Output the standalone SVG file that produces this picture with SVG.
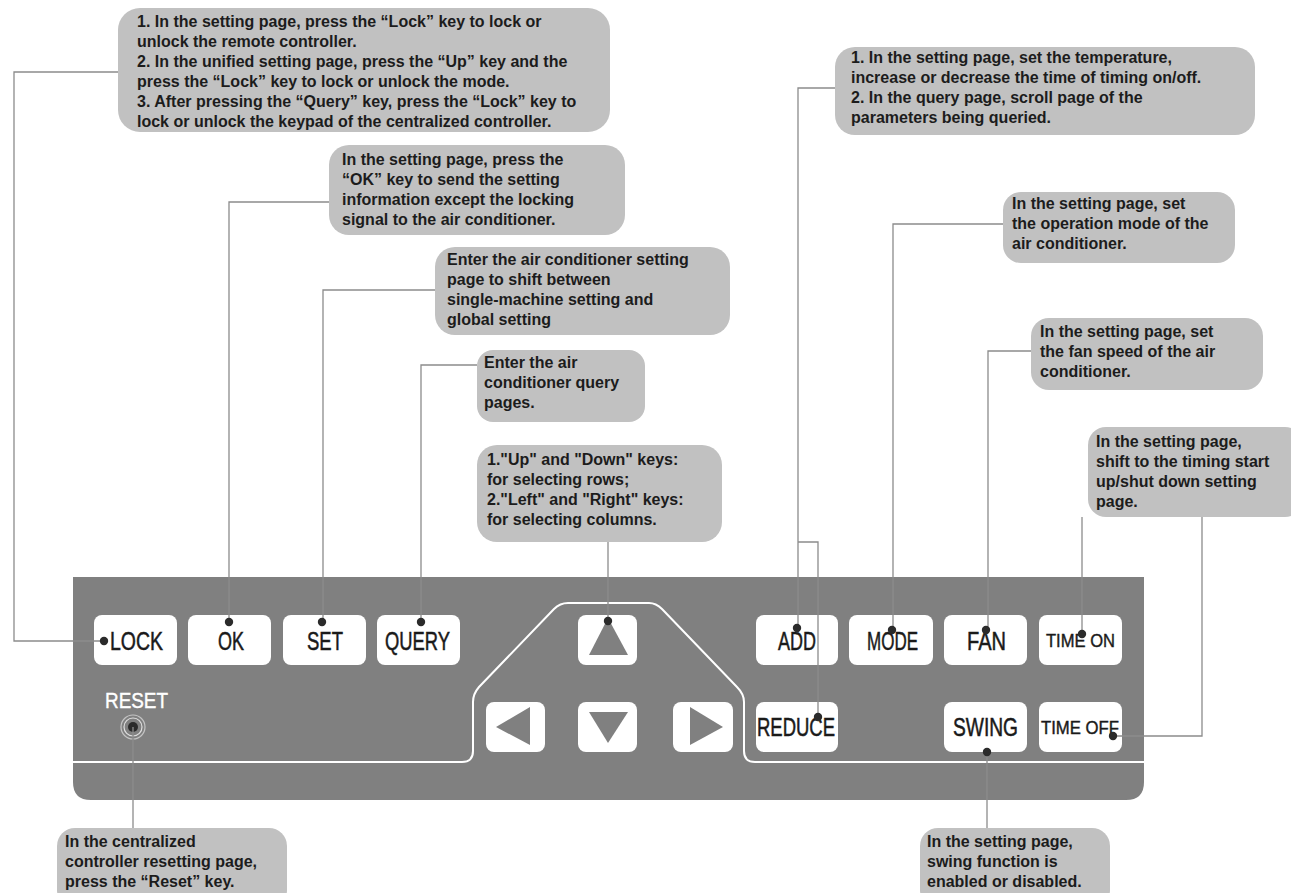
<svg xmlns="http://www.w3.org/2000/svg" width="1291" height="893" viewBox="0 0 1291 893">
<style>
.co{fill:#c1c1c1}
.ct{font-family:"Liberation Sans",Arial,sans-serif;font-weight:bold;font-size:16px;fill:#1c1c1c}
.btn{fill:#ffffff}
.bt{font-family:"Liberation Sans",Arial,sans-serif;font-size:25px;fill:#1a1a1a;stroke:#1a1a1a;stroke-width:0.5}
.bs{font-family:"Liberation Sans",Arial,sans-serif;font-size:18px;fill:#1a1a1a;stroke:#1a1a1a;stroke-width:0.4}
.tri{fill:#808080}
.dot{fill:#2b2b2b}
.cn path{fill:none;stroke:#8c8c8c;stroke-width:1.3}
</style>
<rect width="1291" height="893" fill="#ffffff"/>

<g id="panel">
<path d="M73,577 H1144 V782 Q1144,800 1126,800 H91 Q73,800 73,782 Z" fill="#808080"/>
<path d="M73,762 H462 Q473,762 473,751 V702 Q473,694 479,687 L554,609 Q560,603 568,603 H649 Q656,603 662,609 L737,687 Q744,694 744,702 V751 Q744,762 755,762 H1144" fill="none" stroke="#ffffff" stroke-width="2"/>
<text x="105" y="708" font-family="'Liberation Sans',Arial,sans-serif" font-size="22" fill="#ffffff" stroke="#ffffff" stroke-width="0.4" textLength="63" lengthAdjust="spacingAndGlyphs">RESET</text>
<circle cx="133" cy="727" r="12" fill="none" stroke="#c4c4c4" stroke-width="1.2"/>
<circle cx="133" cy="727" r="9" fill="none" stroke="#dedede" stroke-width="1.2"/>
<circle cx="133" cy="727" r="5" class="dot"/>
</g>

<g id="btn-lock"><rect class="btn" x="94" y="615" width="83" height="50" rx="8"/><text class="bt" x="110" y="650" textLength="53" lengthAdjust="spacingAndGlyphs">LOCK</text></g>
<g id="btn-ok"><rect class="btn" x="188" y="615" width="83" height="50" rx="8"/><text class="bt" x="218" y="650" textLength="26" lengthAdjust="spacingAndGlyphs">OK</text></g>
<g id="btn-set"><rect class="btn" x="283" y="615" width="83" height="50" rx="8"/><text class="bt" x="307" y="650" textLength="36" lengthAdjust="spacingAndGlyphs">SET</text></g>
<g id="btn-query"><rect class="btn" x="377" y="615" width="83" height="50" rx="8"/><text class="bt" x="385" y="650" textLength="65" lengthAdjust="spacingAndGlyphs">QUERY</text></g>

<g id="btn-up"><rect class="btn" x="578" y="615" width="59" height="50" rx="8"/><polygon class="tri" points="608,618 628,655 589,655"/></g>
<g id="btn-left"><rect class="btn" x="486" y="702" width="59" height="50" rx="8"/><polygon class="tri" points="496,727 530,707 530,745"/></g>
<g id="btn-down"><rect class="btn" x="578" y="702" width="59" height="50" rx="8"/><polygon class="tri" points="589,712 628,712 608,743"/></g>
<g id="btn-right"><rect class="btn" x="673" y="702" width="60" height="50" rx="8"/><polygon class="tri" points="690,707 723,727 690,745"/></g>

<g id="btn-add"><rect class="btn" x="756" y="615" width="82" height="50" rx="8"/><text class="bt" x="778" y="650" textLength="38" lengthAdjust="spacingAndGlyphs">ADD</text></g>
<g id="btn-reduce"><rect class="btn" x="756" y="702" width="82" height="50" rx="8"/><text class="bt" x="757" y="736" textLength="78" lengthAdjust="spacingAndGlyphs">REDUCE</text></g>
<g id="btn-mode"><rect class="btn" x="849" y="615" width="84" height="50" rx="8"/><text class="bt" x="867" y="650" textLength="51" lengthAdjust="spacingAndGlyphs">MODE</text></g>
<g id="btn-fan"><rect class="btn" x="944" y="615" width="83" height="50" rx="8"/><text class="bt" x="967" y="650" textLength="39" lengthAdjust="spacingAndGlyphs">FAN</text></g>
<g id="btn-timeon"><rect class="btn" x="1039" y="615" width="83" height="50" rx="8"/><text class="bs" x="1046" y="647" textLength="69" lengthAdjust="spacingAndGlyphs">TIME ON</text></g>
<g id="btn-swing"><rect class="btn" x="944" y="702" width="83" height="50" rx="8"/><text class="bt" x="953" y="736" textLength="65" lengthAdjust="spacingAndGlyphs">SWING</text></g>
<g id="btn-timeoff"><rect class="btn" x="1039" y="702" width="83" height="50" rx="8"/><text class="bs" x="1041" y="734" textLength="78" lengthAdjust="spacingAndGlyphs">TIME OFF</text></g>

<g id="connectors" class="cn">
<path d="M104,641 H14 V72 H118"/>
<path d="M229,622 V202 H329"/>
<path d="M323,622 V290 H435"/>
<path d="M421,622 V365 H477"/>
<path d="M608,621 V542"/>
<path d="M798,628 V88 H835"/>
<path d="M818,717 V542 H798"/>
<path d="M893,630 V224 H1003"/>
<path d="M988,630 V351 H1031"/>
<path d="M1082,634 V517"/>
<path d="M1113,736 H1202 V517"/>
<path d="M987,752 V828"/>
<path d="M133,727 V828"/>
</g>

<g id="dots">
<circle class="dot" cx="104" cy="641" r="4.2"/>
<circle class="dot" cx="229" cy="622" r="4.2"/>
<circle class="dot" cx="322" cy="622" r="4.2"/>
<circle class="dot" cx="421" cy="622" r="4.2"/>
<circle class="dot" cx="608" cy="621" r="4.2"/>
<circle class="dot" cx="797" cy="628" r="4.2"/>
<circle class="dot" cx="818" cy="717" r="4.2"/>
<circle class="dot" cx="892" cy="630" r="4.2"/>
<circle class="dot" cx="986" cy="630" r="4.2"/>
<circle class="dot" cx="1082" cy="634" r="4.2"/>
<circle class="dot" cx="987" cy="752" r="4.2"/>
<circle class="dot" cx="1113" cy="736" r="4.2"/>
</g>

<g id="note-lock"><rect class="co" x="118" y="8" width="492" height="124" rx="22"/>
<text class="ct"><tspan x="137" y="27">1. In the setting page, press the “Lock” key to lock or</tspan><tspan x="137" y="47">unlock the remote controller.</tspan><tspan x="137" y="67">2. In the unified setting page, press the “Up” key and the</tspan><tspan x="137" y="87">press the “Lock” key to lock or unlock the mode.</tspan><tspan x="137" y="107">3. After pressing the “Query” key, press the “Lock” key to</tspan><tspan x="137" y="127">lock or unlock the keypad of the centralized controller.</tspan></text></g>

<g id="note-ok"><rect class="co" x="329" y="145" width="296" height="90" rx="20"/>
<text class="ct"><tspan x="342" y="165">In the setting page, press the</tspan><tspan x="342" y="185">“OK” key to send the setting</tspan><tspan x="342" y="205">information except the locking</tspan><tspan x="342" y="225">signal to the air conditioner.</tspan></text></g>

<g id="note-set"><rect class="co" x="435" y="247" width="295" height="88" rx="20"/>
<text class="ct"><tspan x="447" y="265">Enter the air conditioner setting</tspan><tspan x="447" y="285">page to shift between</tspan><tspan x="447" y="305">single-machine setting and</tspan><tspan x="447" y="325">global setting</tspan></text></g>

<g id="note-query"><rect class="co" x="477" y="350" width="168" height="72" rx="16"/>
<text class="ct"><tspan x="484" y="368">Enter the air</tspan><tspan x="484" y="388">conditioner query</tspan><tspan x="484" y="408">pages.</tspan></text></g>

<g id="note-arrows"><rect class="co" x="477" y="445" width="245" height="97" rx="20"/>
<text class="ct"><tspan x="487" y="465">1."Up" and "Down" keys:</tspan><tspan x="487" y="485">for selecting rows;</tspan><tspan x="487" y="505">2."Left" and "Right" keys:</tspan><tspan x="487" y="525">for selecting columns.</tspan></text></g>

<g id="note-add"><rect class="co" x="835" y="47" width="420" height="88" rx="20"/>
<text class="ct"><tspan x="851" y="63">1. In the setting page, set the temperature,</tspan><tspan x="851" y="83">increase or decrease the time of timing on/off.</tspan><tspan x="851" y="103">2. In the query page, scroll page of the</tspan><tspan x="851" y="123">parameters being queried.</tspan></text></g>

<g id="note-mode"><rect class="co" x="1003" y="192" width="232" height="71" rx="18"/>
<text class="ct"><tspan x="1012" y="209">In the setting page, set</tspan><tspan x="1012" y="229">the operation mode of the</tspan><tspan x="1012" y="249">air conditioner.</tspan></text></g>

<g id="note-fan"><rect class="co" x="1031" y="318" width="232" height="72" rx="18"/>
<text class="ct"><tspan x="1040" y="337">In the setting page, set</tspan><tspan x="1040" y="357">the fan speed of the air</tspan><tspan x="1040" y="377">conditioner.</tspan></text></g>

<g id="note-time"><rect class="co" x="1088" y="427" width="215" height="90" rx="18"/>
<text class="ct"><tspan x="1096" y="447">In the setting page,</tspan><tspan x="1096" y="467">shift to the timing start</tspan><tspan x="1096" y="487">up/shut down setting</tspan><tspan x="1096" y="507">page.</tspan></text></g>

<g id="note-reset"><rect class="co" x="57" y="828" width="230" height="80" rx="18"/>
<text class="ct"><tspan x="65" y="847">In the centralized</tspan><tspan x="65" y="867">controller resetting page,</tspan><tspan x="65" y="887">press the “Reset” key.</tspan></text></g>

<g id="note-swing"><rect class="co" x="920" y="828" width="190" height="80" rx="18"/>
<text class="ct"><tspan x="927" y="847">In the setting page,</tspan><tspan x="927" y="867">swing function is</tspan><tspan x="927" y="887">enabled or disabled.</tspan></text></g>
</svg>
